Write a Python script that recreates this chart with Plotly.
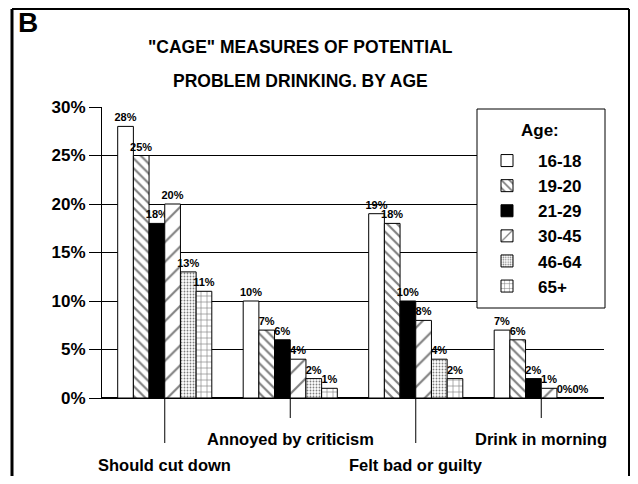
import plotly.graph_objects as go

categories = ["Should cut down", "Annoyed by criticism", "Felt bad or guilty", "Drink in morning"]
age_groups = ["16-18", "19-20", "21-29", "30-45", "46-64", "65+"]
v_16_18 = [28, 10, 19, 7]
v_19_20 = [25, 7, 18, 6]
v_21_29 = [18, 6, 10, 2]
v_30_45 = [20, 4, 8, 1]
v_46_64 = [13, 2, 4, 0]
v_65p = [11, 1, 2, 0]
series = [v_16_18, v_19_20, v_21_29, v_30_45, v_46_64, v_65p]
y_ticks = [0, 5, 10, 15, 20, 25, 30]

styles = [
    dict(color="white", pattern=dict(shape="")),
    dict(color="white", pattern=dict(shape="\\", fgcolor="black", bgcolor="white", size=7, solidity=0.3)),
    dict(color="black", pattern=dict(shape="")),
    dict(color="white", pattern=dict(shape="/", fgcolor="black", bgcolor="white", size=14, solidity=0.15)),
    dict(color="white", pattern=dict(shape=".", fgcolor="black", bgcolor="white", size=3, solidity=0.3)),
    dict(color="white", pattern=dict(shape="+", fgcolor="black", bgcolor="white", size=6, solidity=0.2)),
]

FONT = "Liberation Sans, Arial, sans-serif"
# page body has an 8px default margin on every side; keep the figure inside the window
OFF = 8
PAGE_W, PAGE_H = 638, 484
W, H = PAGE_W - 2 * OFF, PAGE_H - 2 * OFF
L, R, T, B = 102, 604, 107, 398  # plot area in page pixels


def px_x(x):
    return (x - L) / (R - L)


def px_y(y):
    return (B - y) / (B - T)


fig = go.Figure()
for i, (name, vals) in enumerate(zip(age_groups, series)):
    st = styles[i]
    fig.add_trace(go.Bar(
        x=categories, y=vals, name=name,
        legendgroup=name,
        marker=dict(color=st["color"], pattern=st["pattern"], line=dict(color="black", width=1)),
        text=[f"{v}%" for v in vals], textposition="outside", textangle=0,
        constraintext="none", cliponaxis=False,
        textfont=dict(family=FONT, size=11, color="black", weight="bold"),
    ))

shapes = []
annotations = []
for i, cat in enumerate(categories):
    low = (i % 2 == 0)
    shapes.append(dict(type="line", xref="x", yref="paper", x0=i, x1=i,
                       y0=0, y1=px_y(443 if low else 418), line=dict(color="black", width=1)))
    annotations.append(dict(xref="x", yref="paper", x=cat, y=px_y(465 if low else 439),
                            text=cat, showarrow=False, xanchor="center", yanchor="middle",
                            font=dict(family=FONT, size=16.5, color="black", weight="bold")))

# legend box (drawn as a shape so its size matches the original)
shapes.append(dict(type="rect", xref="paper", yref="paper",
                   x0=px_x(477), x1=px_x(605), y0=px_y(308), y1=px_y(109),
                   fillcolor="white", line=dict(color="black", width=1), layer="above"))
annotations.append(dict(xref="paper", yref="paper", x=px_x(540), y=px_y(130), text="Age:",
                        showarrow=False, xanchor="center", yanchor="middle",
                        font=dict(family=FONT, size=17, color="black", weight="bold")))

# outer frame
frame = dict(color="black", width=2)
shapes.append(dict(type="line", xref="paper", yref="paper",
                   x0=px_x(12), x1=px_x(12), y0=px_y(500), y1=px_y(9),
                   line=dict(color="black", width=3), layer="above"))
shapes.append(dict(type="line", xref="paper", yref="paper",
                   x0=px_x(629), x1=px_x(629), y0=px_y(500), y1=px_y(9),
                   line=frame, layer="above"))
shapes.append(dict(type="line", xref="paper", yref="paper",
                   x0=px_x(12), x1=px_x(629), y0=px_y(9), y1=px_y(9),
                   line=frame, layer="above"))

annotations.append(dict(xref="paper", yref="paper", x=px_x(16), y=px_y(23), text="B",
                        showarrow=False, xanchor="left", yanchor="middle",
                        font=dict(family=FONT, size=28, color="black", weight="bold")))
annotations.append(dict(xref="paper", yref="paper", x=px_x(300), y=px_y(47),
                        text='"CAGE" MEASURES OF POTENTIAL', showarrow=False,
                        xanchor="center", yanchor="middle",
                        font=dict(family=FONT, size=17.5, color="black", weight="bold")))
annotations.append(dict(xref="paper", yref="paper", x=px_x(300), y=px_y(81),
                        text="PROBLEM DRINKING. BY AGE", showarrow=False,
                        xanchor="center", yanchor="middle",
                        font=dict(family=FONT, size=17.5, color="black", weight="bold")))

fig.update_layout(
    width=W, height=H,
    margin=dict(l=L - OFF, r=(OFF + W) - R, t=T - OFF, b=(OFF + H) - B),
    paper_bgcolor="white", plot_bgcolor="white",
    barmode="group", bargap=0.25, bargroupgap=0,
    showlegend=True,
    legend=dict(
        x=px_x(476), y=px_y(143), xanchor="left", yanchor="top",
        bgcolor="rgba(0,0,0,0)", borderwidth=0,
        font=dict(family=FONT, size=17, color="black", weight="bold"),
        tracegroupgap=0, itemwidth=52,
    ),
    xaxis=dict(type="category", range=[-0.5, len(categories) - 0.5], autorange=False,
               showticklabels=False, ticks="", showline=True,
               linecolor="black", linewidth=1, showgrid=False),
    yaxis=dict(range=[0, 30], tickvals=y_ticks, ticktext=[f"{t}%" for t in y_ticks],
               showgrid=True, gridcolor="black", gridwidth=1,
               showline=True, linecolor="black", linewidth=1,
               zeroline=True, zerolinecolor="black",
               ticks="outside", ticklen=12, tickcolor="black", automargin=False,
               tickfont=dict(family=FONT, size=17, color="black", weight="bold")),
    shapes=shapes, annotations=annotations,
    font=dict(family=FONT, color="black"),
)

fig.write_html("out.html")
